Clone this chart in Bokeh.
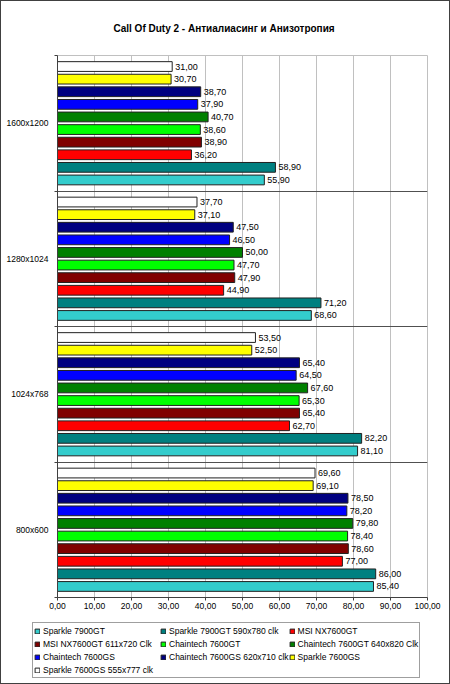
from bokeh.plotting import figure
from bokeh.models import (ColumnDataSource, Range1d, FixedTicker, Legend, LegendItem, Title)
from bokeh.layouts import column
from bokeh.transform import dodge
from bokeh.core.properties import value
from bokeh.embed import file_html
from bokeh.resources import INLINE

# ---- data ----
title_text = "Call Of Duty 2 - Антиалиасинг и Анизотропия"
groups = ["800x600", "1024x768", "1280x1024", "1600x1200"]   # bottom -> top
series_names = [
    "Sparkle 7900GT",
    "Sparkle 7900GT 590x780 clk",
    "MSI NX7600GT",
    "MSI NX7600GT 611x720 Clk",
    "Chaintech 7600GT",
    "Chaintech 7600GT 640x820 Clk",
    "Chaintech 7600GS",
    "Chaintech 7600GS 620x710 clk",
    "Sparkle 7600GS",
    "Sparkle 7600GS 555x777 clk",
]
sparkle_7900gt = [85.40, 81.10, 68.60, 55.90]
sparkle_7900gt_oc = [86.00, 82.20, 71.20, 58.90]
msi_7600gt = [77.00, 62.70, 44.90, 36.20]
msi_7600gt_oc = [78.60, 65.40, 47.90, 38.90]
chaintech_7600gt = [78.40, 65.30, 47.70, 38.60]
chaintech_7600gt_oc = [79.80, 67.60, 50.00, 40.70]
chaintech_7600gs = [78.20, 64.50, 46.50, 37.90]
chaintech_7600gs_oc = [78.50, 65.40, 47.50, 38.70]
sparkle_7600gs = [69.10, 52.50, 37.10, 30.70]
sparkle_7600gs_oc = [69.60, 53.50, 37.70, 31.00]
series_values = [sparkle_7900gt, sparkle_7900gt_oc, msi_7600gt, msi_7600gt_oc,
                 chaintech_7600gt, chaintech_7600gt_oc, chaintech_7600gs,
                 chaintech_7600gs_oc, sparkle_7600gs, sparkle_7600gs_oc]
colors = ["#33CCCC", "#008080", "#FF0000", "#800000", "#00FF00",
          "#008000", "#0000FF", "#000080", "#FFFF00", "#FFFFFF"]
x_ticks = [0, 10, 20, 30, 40, 50, 60, 70, 80, 90, 100]
x_tick_labels = ["0,00", "10,00", "20,00", "30,00", "40,00", "50,00",
                 "60,00", "70,00", "80,00", "90,00", "100,00"]

FONT = "Liberation Sans"
EDGE = "#404040"

p = figure(width=448, height=612, output_backend="svg", toolbar_location=None,
           x_range=Range1d(0, 100), y_range=Range1d(0, len(groups)),
           min_border_left=56, min_border_right=22, min_border_top=54,
           min_border_bottom=16, title=None)
p.background_fill_color = "white"
p.border_fill_color = "white"
p.outline_line_color = "#C0C0C0"

# x axis
p.xaxis.ticker = FixedTicker(ticks=x_ticks)
p.xaxis.major_label_overrides = {t: l for t, l in zip(x_ticks, x_tick_labels)}
p.xaxis.major_label_text_font = FONT
p.xaxis.major_label_text_font_size = "8.5px"
p.xaxis.major_label_text_color = "black"
p.xaxis.major_label_standoff = 2
p.xaxis.major_tick_out = 3
p.xaxis.major_tick_in = 0
p.xaxis.minor_tick_line_color = None
p.xaxis.axis_line_color = EDGE
p.xaxis.major_tick_line_color = EDGE

# y axis: labels at group centres, ticks at boundaries
centers = [i + 0.5 for i in range(len(groups))]
bounds = list(range(len(groups) + 1))
p.yaxis.ticker = FixedTicker(ticks=centers, minor_ticks=bounds)
p.yaxis.major_label_overrides = {c: g for c, g in zip(centers, groups)}
p.yaxis.major_label_text_font = FONT
p.yaxis.major_label_text_font_size = "8.5px"
p.yaxis.major_label_text_color = "black"
p.yaxis.major_tick_line_color = None
p.yaxis.major_tick_out = 0
p.yaxis.major_tick_in = 0
p.yaxis.major_label_standoff = 6
p.yaxis.minor_tick_out = 3
p.yaxis.minor_tick_in = 0
p.yaxis.minor_tick_line_color = EDGE
p.yaxis.axis_line_color = EDGE

p.xgrid.ticker = FixedTicker(ticks=x_ticks)
p.xgrid.grid_line_color = "#C0C0C0"
p.ygrid.ticker = FixedTicker(ticks=bounds[1:-1])
p.ygrid.grid_line_color = "#505050"

# legend figure (its own frame spans the whole strip)
lf = figure(width=448, height=70, frame_width=448, frame_height=70,
            output_backend="svg", toolbar_location=None,
            x_range=Range1d(0, 1), y_range=Range1d(0, 1),
            x_axis_type=None, y_axis_type=None, min_border=0, title=None)
lf.outline_line_color = None
lf.background_fill_color = "white"
lf.border_fill_color = "white"
for fig in (p, lf):
    if hasattr(fig, "frame_align"):
        fig.frame_align = False

pitch = 0.093
bar_h = 0.072
n = len(series_names)
nan = float("nan")
items = []
for k, (name, vals, col) in enumerate(zip(series_names, series_values, colors)):
    src = ColumnDataSource(dict(y=centers, v=vals,
                                lbl=[f"{v:.2f}".replace(".", ",") for v in vals]))
    off = (k - (n - 1) / 2) * pitch
    p.hbar(y=dodge("y", off), right="v", left=0, height=bar_h, source=src,
           fill_color=col, line_color="#202020", line_width=1)
    p.text(x="v", y=dodge("y", off), text="lbl", source=src, x_offset=3,
           text_font=value(FONT), text_font_size="9px", text_color="black",
           text_baseline="middle", text_align="left")
    # legend swatch carrier (style only, nothing drawn)
    r = lf.hbar(y=[nan], right=[nan], left=0, height=0.1,
                fill_color=col, line_color="#202020", line_width=1)
    items.append(LegendItem(label=name, renderers=[r]))

legend = Legend(items=items, orientation="horizontal", ncols=3,
                location=(31, 5),
                label_text_font=FONT, label_text_font_size="8.5px",
                label_text_color="black",
                glyph_width=6, glyph_height=6, label_standoff=3,
                label_height=13, label_width=117, spacing=0,
                padding=1, margin=0,
                border_line_color=EDGE, border_line_width=1,
                background_fill_color="white", background_fill_alpha=1.0)
lf.add_layout(legend, "center")

title = Title(text=title_text, align="left", offset=56, vertical_align="top",
              standoff=39, text_font=FONT, text_font_size="10px",
              text_font_style="bold", text_color="black")
p.add_layout(title, "above")

layout = column(p, lf, spacing=0)
layout.styles = {"border": "1px solid #404040"}

open("out.html", "w").write(file_html(layout, INLINE))
